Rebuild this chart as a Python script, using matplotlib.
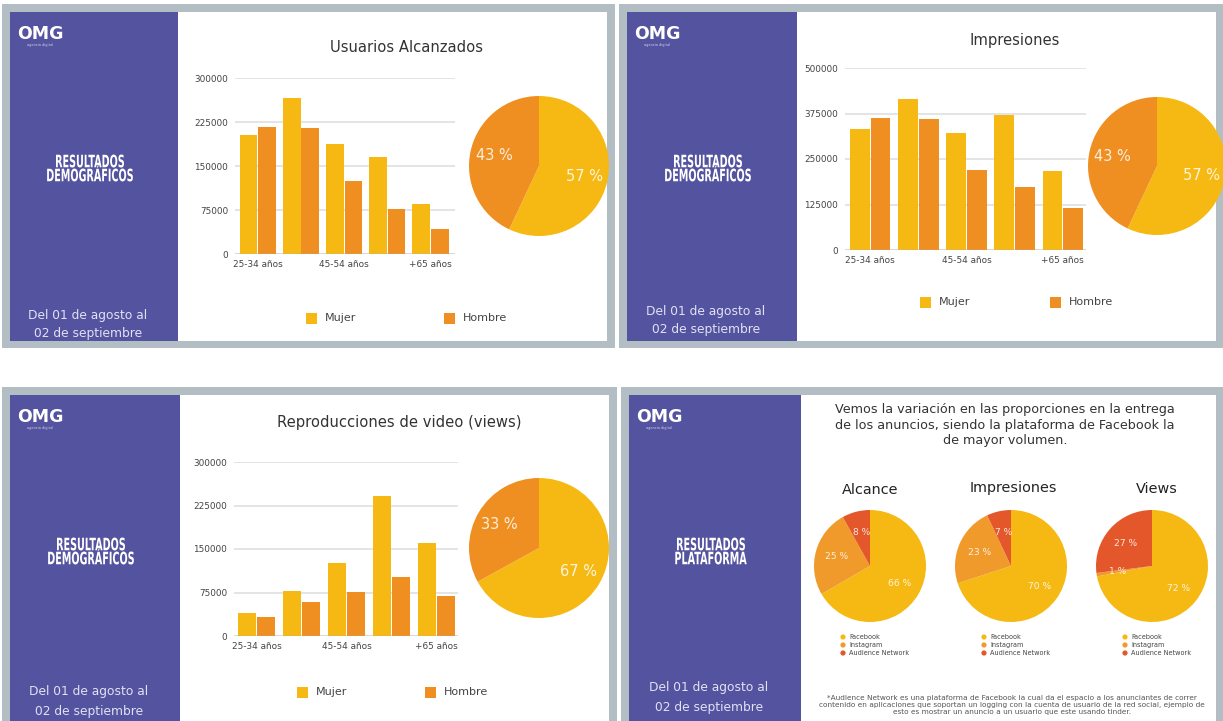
import matplotlib
matplotlib.use('Agg')
import matplotlib.pyplot as plt
from matplotlib.patches import Rectangle, Circle, PathPatch
from matplotlib.textpath import TextPath
from matplotlib.font_manager import FontProperties
import matplotlib.transforms as mtransforms
import numpy as np

W, H = 1223, 721

# ---------------- data ----------------
age_groups = ["25-34 años", "35-44 años", "45-54 años", "55-64 años", "+65 años"]
gender_labels = ["Mujer", "Hombre"]

alcance_mujer = [202000, 266000, 187000, 165000, 86000]
alcance_hombre = [217000, 214000, 125000, 76000, 43000]
alcance_ticks = [0, 75000, 150000, 225000, 300000]
alcance_pct = [57, 43]

impres_mujer = [332000, 416000, 321000, 371000, 216000]
impres_hombre = [362000, 360000, 220000, 172000, 115000]
impres_ticks = [0, 125000, 250000, 375000, 500000]
impres_pct = [57, 43]

views_mujer = [39000, 78000, 126000, 242000, 161000]
views_hombre = [32000, 58000, 76000, 102000, 69000]
views_ticks = [0, 75000, 150000, 225000, 300000]
views_pct = [67, 33]

platforms = ["Facebook", "Instagram", "Audience Network"]
plat_titles = ["Alcance", "Impresiones", "Views"]
plat_alcance = [66, 25, 8]
plat_impres = [70, 23, 7]
plat_views = [72, 1, 27]

chart_titles = ["Usuarios Alcanzados", "Impresiones", "Reproducciones de video (views)"]

# ---------------- style ----------------
C_M = '#f6b913'
C_H = '#ef8f22'
C_IG = '#f09a2c'
C_AN = '#e4572a'
PURPLE = '#5453a0'
BORDER = '#b3bec4'
TXT = '#444444'
plt.rcParams['font.family'] = ['DejaVu Sans']

fig = plt.figure(figsize=(W / 100, H / 100), dpi=100)
fig.patch.set_facecolor('white')

bg = fig.add_axes([0, 0, 1, 1])
bg.set_xlim(0, W)
bg.set_ylim(H, 0)
bg.axis('off')
bg.set_zorder(0)


def px_axes(x0, y0, x1, y1, z=2):
    ax = fig.add_axes([x0 / W, 1 - y1 / H, (x1 - x0) / W, (y1 - y0) / H])
    ax.set_zorder(z)
    ax.patch.set_alpha(0)
    return ax


BOLD = FontProperties(family='DejaVu Sans', weight='bold')
_ref = TextPath((0, 0), "RESULTADOS", size=10, prop=BOLD).get_extents()
SX = 68.0 / _ref.width     # horizontal squeeze (condensed look)
SY = 12.5 / 7.29           # cap height in pixels


def condensed(cx, cy, s, color='white'):
    tp = TextPath((0, 0), s, size=10, prop=BOLD)
    bb = tp.get_extents()
    tr = (mtransforms.Affine2D()
          .translate(-(bb.x0 + bb.width / 2), -7.29 / 2)
          .scale(SX, -SY)
          .translate(cx, cy))
    bg.add_patch(PathPatch(tr.transform_path(tp), facecolor=color, lw=0))


# panels: outer, inner, sidebar right edge
panels = [
    dict(outer=(2, 4, 615, 348), inner=(10, 12, 607, 341), side=178),
    dict(outer=(619, 4, 1230, 348), inner=(627, 12, 1216, 341), side=797),
    dict(outer=(2, 387, 617, 730), inner=(10, 395, 609, 730), side=180),
    dict(outer=(621, 387, 1230, 730), inner=(629, 395, 1216, 730), side=801),
]
side_titles = [("RESULTADOS", "DEMOGRÁFICOS")] * 3 + [("RESULTADOS", "PLATAFORMA")]
side_title_y = [161, 161, 544, 544]
date_y = [315, 311, 692, 688]

clips = []
for p, st, sty, dy in zip(panels, side_titles, side_title_y, date_y):
    ox0, oy0, ox1, oy1 = p['outer']
    ix0, iy0, ix1, iy1 = p['inner']
    bg.add_patch(Rectangle((ox0, oy0), ox1 - ox0, oy1 - oy0, color=BORDER, lw=0))
    bg.add_patch(Rectangle((ix0, iy0), ix1 - ix0, iy1 - iy0, color='white', lw=0))
    bg.add_patch(Rectangle((ix0, iy0), p['side'] - ix0, iy1 - iy0, color=PURPLE, lw=0))
    cx = (ox0 + p['side']) / 2
    # logo
    bg.text(ix0 + 7, iy0 + 22, "OMG", color='white', fontsize=12.5, fontweight='bold',
            ha='left', va='center')
    bg.text(ix0 + 30, iy0 + 33, "agencia digital", color='#d0d0ea', fontsize=2.5,
            ha='center', va='center')
    condensed(cx, sty, st[0])
    condensed(cx, sty + 14, st[1])
    bg.text(cx - 2, dy, "Del 01 de agosto al", color='#e2e1f2', fontsize=8.8,
            ha='center', va='center')
    bg.text(cx - 2, dy + 19, "02 de septiembre", color='#e2e1f2', fontsize=8.8,
            ha='center', va='center')
    clips.append((ix0, iy0, ix1, iy1))


def bar_chart(rect, xlim, ticks, mujer, hombre, title, title_xy, leg):
    ax = px_axes(*rect)
    x = np.arange(len(age_groups))
    ax.bar(x - 0.215, mujer, 0.41, color=C_M, zorder=3)
    ax.bar(x + 0.215, hombre, 0.41, color=C_H, zorder=3)
    ax.set_xlim(*xlim)
    ax.set_ylim(0, ticks[-1])
    ax.set_yticks(ticks)
    ax.set_yticklabels([str(t) for t in ticks])
    ax.set_xticks([0, 2, 4])
    ax.set_xticklabels([age_groups[0], age_groups[2], age_groups[4]])
    ax.yaxis.grid(True, color='#e4e4e4', lw=1.4, zorder=0)
    ax.set_axisbelow(True)
    for s in ax.spines.values():
        s.set_visible(False)
    ax.axhline(0, color='#a9b0b8', lw=1.0, zorder=4)
    ax.tick_params(axis='both', length=0, labelsize=6.4, colors=TXT)
    ax.tick_params(axis='y', pad=5)
    ax.tick_params(axis='x', pad=4)
    bg.text(title_xy[0], title_xy[1], title, fontsize=10.6, color='#333333',
            ha='center', va='center')
    # legend
    for (lx, ly), lab, col in zip(leg, gender_labels, [C_M, C_H]):
        bg.add_patch(Rectangle((lx, ly - 5.5), 11, 11, color=col, lw=0))
        bg.text(lx + 19, ly, lab, fontsize=8, color=TXT, ha='left', va='center')
    return ax


def pie_chart(cx, cy, r, vals, colors, clip, fs=10.5, pdist=0.66):
    ax = px_axes(cx - r, cy - r, cx + r, cy + r, z=3)
    total = sum(vals)
    wedges, texts, autotexts = ax.pie(
        vals, colors=colors, startangle=90, counterclock=False, radius=1,
        autopct=lambda p: f'{p * total / 100:.0f} %', pctdistance=pdist,
        wedgeprops=dict(lw=0), textprops=dict(color='white', fontsize=fs))
    for t in autotexts:
        t.set_alpha(0.85)
    ax.set_xlim(-1, 1)
    ax.set_ylim(-1, 1)
    x0, y0, x1, y1 = clip
    cp = Rectangle((x0, y0), x1 - x0, y1 - y0, transform=bg.transData,
                   facecolor='none', edgecolor='none')
    for w in wedges:
        w.set_clip_path(cp)
    return ax


# ---- panel 1: Usuarios Alcanzados ----
bar_chart((235, 78, 455, 254), (-0.53, 4.57), alcance_ticks, alcance_mujer, alcance_hombre,
          chart_titles[0], (406, 48), [(306, 318), (444, 318)])
pie_chart(539, 166, 70, alcance_pct, [C_M, C_H], clips[0])

# ---- panel 2: Impresiones ----
bar_chart((845, 68, 1086, 250), (-0.52, 4.48), impres_ticks, impres_mujer, impres_hombre,
          chart_titles[1], (1015, 40), [(920, 302), (1050, 302)])
pie_chart(1157, 166, 69, impres_pct, [C_M, C_H], clips[1])

# ---- panel 3: Reproducciones de video ----
bar_chart((234, 462, 458, 636), (-0.5, 4.48), views_ticks, views_mujer, views_hombre,
          chart_titles[2], (399, 422), [(297, 692), (425, 692)])
pie_chart(539, 548, 70, views_pct, [C_M, C_H], clips[2])

# ---- panel 4: Plataforma ----
bg.text(1005, 425,
        "Vemos la variación en las proporciones en la entrega\n"
        "de los anuncios, siendo la plataforma de Facebook la\n"
        "de mayor volumen.",
        fontsize=9.2, color='#333333', ha='center', va='center', linespacing=1.22)
plat_vals = [plat_alcance, plat_impres, plat_views]
pie_centers = [(870, 566), (1011, 566), (1152, 566)]
title_pos = [(870, 490), (1013, 488), (1157, 489)]
for vals, (pcx, pcy), (tx, ty), ttl in zip(plat_vals, pie_centers, title_pos, plat_titles):
    bg.text(tx, ty, ttl, fontsize=10.4, color='#222222', ha='center', va='center')
    pie_chart(pcx, pcy, 56, vals, [C_M, C_IG, C_AN], clips[3], fs=6.6, pdist=0.62)
    lx = pcx - 27
    for i, (lab, col) in enumerate(zip(platforms, [C_M, C_IG, C_AN])):
        ly = 637 + 8 * i
        bg.add_patch(Circle((lx, ly), 2.6, color=col, lw=0))
        bg.text(lx + 6, ly, lab, fontsize=4.7, color=TXT, ha='left', va='center')

bg.text(1012, 705,
        "*Audience Network es una plataforma de Facebook la cual da el espacio a los anunciantes de correr\n"
        "contenido en aplicaciones que soportan un logging con la cuenta de usuario de la red social, ejemplo de\n"
        "esto es mostrar un anuncio a un usuario que este usando tinder.",
        fontsize=5.3, color='#555555', ha='center', va='center', linespacing=1.15)

fig.savefig('out.png', dpi=100, facecolor='white')
